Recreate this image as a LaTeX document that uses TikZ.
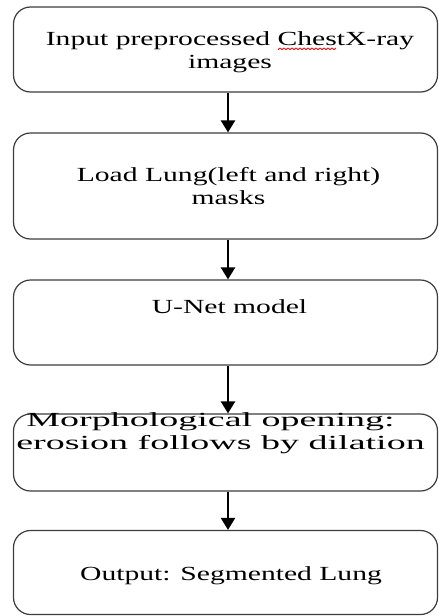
\documentclass[tikz,border=0pt]{standalone}
\usepackage{fontspec}
\setmainfont{Liberation Serif}
\newfontfamily\fa[FakeStretch=1.48]{Liberation Serif}
\newfontfamily\fb[FakeStretch=1.9]{Liberation Serif}
\usetikzlibrary{arrows.meta}
\definecolor{boxline}{RGB}{60,60,60}
\tikzset{
  flowbox/.style={draw=boxline, line width=1.2pt, rounded corners=17pt, minimum width=424pt, inner sep=0pt},
  boxtext/.style={align=center, anchor=base, inner sep=0pt, font=\fa\fontsize{20pt}{22.5pt}\selectfont},
  boxtextwide/.style={boxtext, font=\fb\fontsize{20pt}{22.5pt}\selectfont},
  flowarrow/.style={draw=black, line width=2.4pt, -{Triangle[width=14pt,length=12pt]}, shorten <=0.6pt},
  wavyline/.style={red, line width=0.8pt, line join=round}
}
\begin{document}
\begin{tikzpicture}[x=1pt,y=-1pt]
\useasboundingbox (0,0) rectangle (439,616);
% boxes
\node[flowbox, minimum height=85pt]  (b1) at (225.5,49.5) {};
\node[flowbox, minimum height=106pt] (b2) at (225.5,186) {};
\node[flowbox, minimum height=85pt]  (b3) at (225.5,322.5) {};
\node[flowbox, minimum height=77pt]  (b4) at (225.5,452.5) {};
\node[flowbox, minimum height=84pt]  (b5) at (225.5,572.5) {};
% texts (base anchor = baseline of the last line)
\node[boxtext] (t1) at (230,68) {Input preprocessed ChestX-ray\\images};
\node[boxtext] (t2) at (228.5,204) {Load Lung(left and right)\\masks};
\node[boxtext] (t3) at (229.5,313) {U-Net model};
\node[boxtextwide] (t4) at (220.5,449) {Morphological opening:\hspace*{20pt}\\erosion follows by dilation};
\node[boxtext] (t5) at (231,580) {Output: Segmented Lung};
% spell-check underline
\draw[wavyline] plot[domain=0:58, samples=30] ({278+\x},{48.8+((-1)^(round(\x/2)))*0.9});
% arrows
\foreach \a/\b in {b1/b2, b2/b3, b3/b4, b4/b5}
  \draw[flowarrow] ([xshift=2.5pt]\a.south) -- ([xshift=2.5pt]\b.north);
\end{tikzpicture}
\end{document}
